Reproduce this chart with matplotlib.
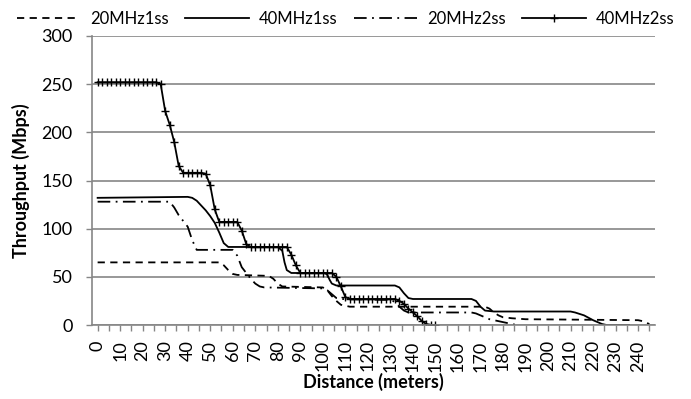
import matplotlib
matplotlib.use("Agg")
import matplotlib.pyplot as plt

plt.rcParams['font.family'] = ['Lato', 'DejaVu Sans']

# 40MHz2ss: one point every 2 m (each point gets a plus marker)
d_40_2 = list(range(0, 152, 2))
t_40_2 = [252, 252, 252, 252, 252, 252, 252, 252, 252, 252, 252, 252, 252, 252,
          250, 222, 208, 190, 165, 158, 158, 158, 158, 158, 157, 145, 120, 107,
          107, 107, 107, 107, 98, 84, 81, 81, 81, 81, 81, 81, 81, 81, 81, 73,
          62, 54, 54, 54, 54, 54, 54, 54, 54, 50, 40, 29, 27, 27, 27, 27, 27,
          27, 27, 27, 27, 27, 27, 25, 22, 17, 13, 9, 4, 1, 0, 0]

d_40_1 = [0, 40, 42, 44, 46, 48, 50, 52, 54, 56, 58, 80, 82, 83, 84, 86, 101,
          102, 103, 104, 106, 132, 134, 136, 138, 140, 166, 168, 170, 172, 176,
          210, 212, 216, 220, 224, 226, 236]
t_40_1 = [132, 133, 132, 129, 124, 119, 113, 106, 96, 85, 81, 81, 77, 65, 57,
          54, 54, 52, 47, 43, 41, 41, 39, 33, 28, 27, 27, 25, 19, 15, 14,
          14, 13, 10, 5, 1, 0, 0]

d_20_2 = [0, 32, 34, 36, 38, 40, 42, 44, 60, 62, 64, 66, 68, 70, 72, 74, 100,
          102, 104, 106, 108, 130, 132, 134, 136, 138, 166, 168, 170, 172, 174,
          176, 180, 184, 186]
t_20_2 = [128, 128, 122, 114, 108, 102, 88, 78, 78, 72, 60, 54, 48, 43, 40, 39,
          38, 36, 32, 28, 27, 26, 24, 19, 15, 13, 13, 12, 10, 8, 6, 5, 3, 1, 0]

d_20_1 = [0, 54, 56, 58, 60, 62, 76, 78, 80, 82, 100, 102, 104, 106, 108, 110,
          112, 172, 174, 176, 178, 180, 184, 190, 240, 242, 244, 245]
t_20_1 = [65, 65, 62, 57, 53, 52, 51, 48, 43, 40, 39, 36, 30, 25, 21, 20,
          19, 19, 17, 13, 10, 8, 7, 6, 5, 4, 2, 1]

x_labels = list(range(0, 250, 10))
y_ticks = [0, 50, 100, 150, 200, 250, 300]

grey = '#868686'

fig = plt.figure(figsize=(6.91, 3.99), dpi=100)
ax = fig.add_axes([92/691, 74/399, (655-92)/691, 289/399])

ax.plot(d_20_1, t_20_1, color='black', lw=1.3, linestyle=(0, (4, 3)), label='20MHz1ss')
ax.plot(d_40_1, t_40_1, color='black', lw=1.3, label='40MHz1ss')
ax.plot(d_20_2, t_20_2, color='black', lw=1.3, linestyle=(0, (7, 3, 1, 3)), label='20MHz2ss')
ax.plot(d_40_2, t_40_2, color='black', lw=1.3, marker='+', markersize=6,
        markeredgewidth=1.0, label='40MHz2ss')

ax.set_xlim(-2.5, 247.5)
ax.set_ylim(0, 300)
ax.set_yticks(y_ticks)
ax.set_xticks(x_labels)
ax.set_xticklabels([str(v) for v in x_labels], rotation=90)
ax.set_xticks(list(range(5, 250, 10)), minor=True)
ax.grid(axis='y', color=grey, lw=1.2)
ax.set_axisbelow(True)

for s in ['top', 'right']:
    ax.spines[s].set_visible(False)
for s in ['left', 'bottom']:
    ax.spines[s].set_color(grey)
    ax.spines[s].set_linewidth(1.2)

ax.tick_params(axis='both', which='both', colors=grey, labelcolor='black',
               labelsize=13, direction='out', length=4, width=1)
ax.tick_params(axis='y', pad=10)
ax.tick_params(axis='x', which='major', pad=7)

ax.set_xlabel('Distance (meters)', fontsize=13, fontweight='bold', labelpad=1)
ax.set_ylabel('Throughput (Mbps)', fontsize=13, fontweight='bold', labelpad=8)

fig.legend(loc='upper center', bbox_to_anchor=(0.5, 1.01), ncol=4, frameon=False,
           fontsize=12, handlelength=3.8, columnspacing=1.0, handletextpad=0.6)

fig.savefig('out.png', dpi=100)
